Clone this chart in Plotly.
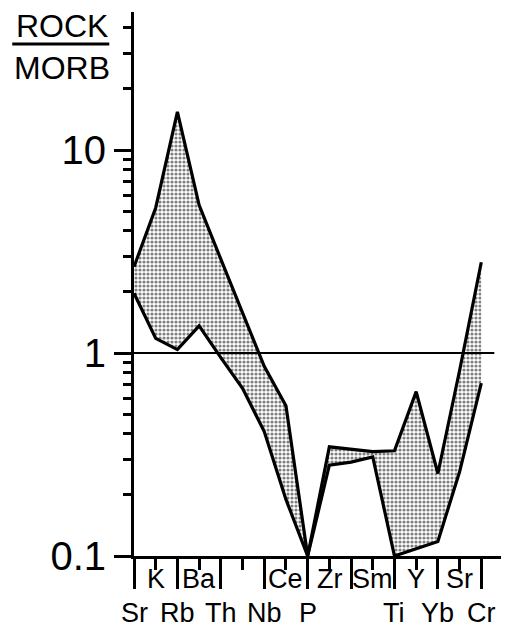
import plotly.graph_objects as go

# Element order on the x axis (index positions 0..16)
elements = ["Sr", "K", "Rb", "Ba", "Th", "Ta", "Nb", "Ce", "P", "Zr", "Hf",
            "Sm", "Ti", "Y", "Yb", "Sc", "Cr"]
# Labels as printed in the figure (two blank positions)
tick_labels = ["Sr", "K", "Rb", "Ba", "Th", "", "Nb", "Ce", "P", "Zr", "",
               "Sm", "Ti", "Y", "Yb", "Sr", "Cr"]

# Envelope of rock/MORB normalised values
upper = [2.66, 5.2, 15.4, 5.36, 2.9, 1.57, 0.86, 0.55, 0.1, 0.345, 0.336,
         0.327, 0.33, 0.645, 0.255, 0.82, 2.8]
lower = [1.97, 1.18, 1.04, 1.36, 0.95, 0.67, 0.41, 0.19, 0.1, 0.28, 0.29,
         0.308, 0.1, 0.109, 0.118, 0.26, 0.71]

ref_level = 1.0
major_y = [0.1, 1, 10]
major_y_text = ["0.1", "1", "10"]
minor_y = [0.2, 0.3, 0.4, 0.5, 0.6, 0.7, 0.8, 0.9,
           2, 3, 4, 5, 6, 7, 8, 9, 20, 30, 40]

FONT = "Liberation Sans Narrow, Liberation Sans, Arial, sans-serif"

idx = list(range(len(elements)))

fig = go.Figure()

# shaded envelope (stippled)
fig.add_trace(go.Scatter(
    x=idx + idx[::-1], y=upper + lower[::-1],
    fill="toself", mode="none",
    fillcolor="rgba(0,0,0,0)",
    fillpattern=dict(shape=".", fgcolor="black", bgcolor="white",
                     size=4, solidity=0.5),
    hoverinfo="skip", showlegend=False))

fig.add_trace(go.Scatter(x=idx, y=upper, mode="lines",
                         line=dict(color="black", width=3.2), showlegend=False))
fig.add_trace(go.Scatter(x=idx, y=lower, mode="lines",
                         line=dict(color="black", width=3.2), showlegend=False))

# reference line at rock/MORB = 1
fig.add_shape(type="line", xref="x", yref="y", x0=0, x1=16.6,
              y0=ref_level, y1=ref_level, line=dict(color="black", width=2))

even = [i for i in idx if i % 2 == 0]
odd = [i for i in idx if i % 2 == 1]

fig.update_xaxes(
    range=[0, 17], showline=True, linewidth=3, linecolor="black",
    showgrid=False, zeroline=False,
    ticks="outside", tickvals=even, ticklen=30, tickwidth=2.5, tickcolor="black",
    showticklabels=False,
    minor=dict(tickvals=odd, ticks="outside", ticklen=11, tickwidth=2.5,
               tickcolor="black", showgrid=False),
)
fig.update_yaxes(
    type="log", range=[-1, 1.68], showline=True, linewidth=3, linecolor="black",
    showgrid=False, zeroline=False,
    ticks="outside", tickvals=major_y, ticktext=major_y_text, ticklen=17,
    tickwidth=2.5, tickcolor="black",
    tickfont=dict(family=FONT, size=40, color="black"),
    minor=dict(tickvals=minor_y, ticks="outside", ticklen=8, tickwidth=2.5,
               tickcolor="black", showgrid=False),
)

# category labels, two staggered rows
for i, lab in enumerate(tick_labels):
    if not lab:
        continue
    row_y = -0.042 if i % 2 == 1 else -0.104
    fig.add_annotation(x=i, y=row_y, xref="x", yref="paper", text=lab,
                       showarrow=False, xanchor="center", yanchor="middle",
                       font=dict(family=FONT, size=27, color="black"))

# y-axis title: ROCK over MORB
fig.add_annotation(x=-0.195, y=0.975, xref="paper", yref="paper", text="ROCK",
                   showarrow=False, xanchor="center", yanchor="middle",
                   font=dict(family=FONT, size=32, color="black"))
fig.add_annotation(x=-0.195, y=0.897, xref="paper", yref="paper", text="MORB",
                   showarrow=False, xanchor="center", yanchor="middle",
                   font=dict(family=FONT, size=32, color="black"))
fig.add_shape(type="line", xref="paper", yref="paper",
              x0=-0.33, x1=-0.067, y0=0.941, y1=0.941,
              line=dict(color="black", width=3))

# the page adds an 8px body margin, so the figure is 8px smaller
fig.update_layout(
    width=501, height=622,
    margin=dict(l=126, r=6, t=4, b=74),
    plot_bgcolor="white", paper_bgcolor="white",
    showlegend=False,
)

fig.write_html("out.html")
